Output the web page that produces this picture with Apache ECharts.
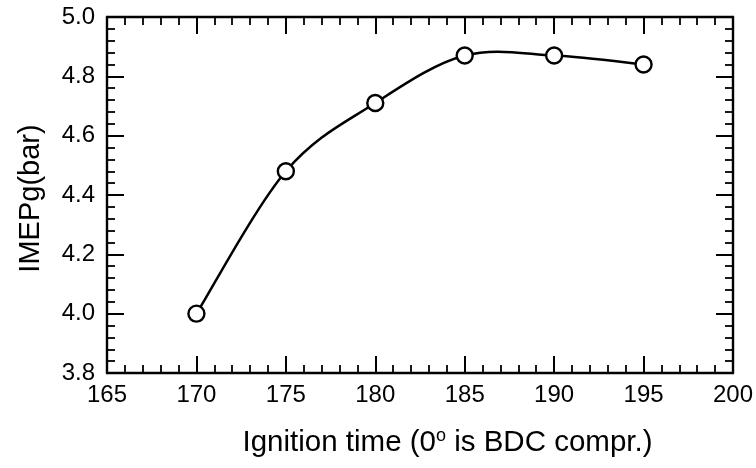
<!DOCTYPE html>
<html><head><meta charset="utf-8">
<script src="https://cdn.jsdelivr.net/npm/echarts@6/dist/echarts.min.js"></script>
<style>html,body{margin:0;padding:0;background:#fff}#c{width:756px;height:468px}</style>
</head><body><div id="c"></div>
<script>
const ignitionTime = [170, 175, 180, 185, 190, 195];
const imepg = [4.00, 4.48, 4.71, 4.87, 4.87, 4.84];
const xTicks = {min: 165, max: 200, interval: 5};
const yTicks = {min: 3.8, max: 5.0, interval: 0.2};

const FONT = 'Liberation Sans';
const chart = echarts.init(document.getElementById('c'), null, {renderer: 'canvas'});
const lineStyle = {color: '#000', width: 2.4};
function axisCommon(showLabel) {
  return {
    axisLine: {show: true, onZero: false, lineStyle: lineStyle},
    axisTick: {show: true, inside: true, length: 17, lineStyle: {color: '#000', width: 2}},
    minorTick: {show: true, splitNumber: 5, length: 8, lineStyle: {color: '#000', width: 1.8}},
    splitLine: {show: false},
    minorSplitLine: {show: false},
    axisLabel: {show: showLabel, color: '#000', fontFamily: FONT, fontSize: 24}
  };
}
const xBottom = Object.assign(axisCommon(true), {
  type: 'value', position: 'bottom', min: xTicks.min, max: xTicks.max, interval: xTicks.interval,
  name: 'Ignition time (0{sup|o} is BDC compr.)', nameLocation: 'middle', nameGap: 54,
  nameTextStyle: {color: '#000', fontFamily: FONT, fontSize: 29.5, padding: [0, 0, 0, 55],
    rich: {sup: {fontSize: 18, fontFamily: FONT, color: '#000', padding: [0, 0, 14, 0]}}}
});
xBottom.axisLabel.margin = 10;
const xTop = Object.assign(axisCommon(false), {
  type: 'value', position: 'top', min: xTicks.min, max: xTicks.max, interval: xTicks.interval
});
const yLeft = Object.assign(axisCommon(true), {
  type: 'value', position: 'left', min: yTicks.min, max: yTicks.max, interval: yTicks.interval,
  name: 'IMEPg(bar)', nameLocation: 'middle', nameGap: 62,
  nameTextStyle: {color: '#000', fontFamily: FONT, fontSize: 29, padding: [0, 7, 0, 0]}
});
yLeft.axisLabel.margin = 12;
yLeft.axisLabel.formatter = v => v.toFixed(1);
const yRight = Object.assign(axisCommon(false), {
  type: 'value', position: 'right', min: yTicks.min, max: yTicks.max, interval: yTicks.interval
});

const n = ignitionTime.length;
function pt(api, k) {
  k = Math.max(0, Math.min(n - 1, k));
  return api.coord([ignitionTime[k], imepg[k]]);
}
function renderSegment(params, api) {
  const i = params.dataIndex;
  const p0 = pt(api, i - 1), p1 = pt(api, i), p2 = pt(api, i + 1), p3 = pt(api, i + 2);
  return {
    type: 'bezierCurve',
    shape: {
      x1: p1[0], y1: p1[1], x2: p2[0], y2: p2[1],
      cpx1: p1[0] + (p2[0] - p0[0]) / 6, cpy1: p1[1] + (p2[1] - p0[1]) / 6,
      cpx2: p2[0] - (p3[0] - p1[0]) / 6, cpy2: p2[1] - (p3[1] - p1[1]) / 6
    },
    style: {stroke: '#000', lineWidth: 2.5, fill: 'none'}
  };
}

chart.setOption({
  animation: false,
  backgroundColor: '#fff',
  grid: {left: 107, right: 23, top: 17, bottom: 95, containLabel: false},
  xAxis: [xBottom, xTop],
  yAxis: [yLeft, yRight],
  series: [{
    type: 'custom',
    xAxisIndex: 0, yAxisIndex: 0,
    clip: false,
    data: ignitionTime.slice(0, -1).map((x, i) => [x, imepg[i]]),
    renderItem: renderSegment,
    z: 2
  }, {
    type: 'line',
    xAxisIndex: 0, yAxisIndex: 0,
    data: ignitionTime.map((x, i) => [x, imepg[i]]),
    lineStyle: {width: 0, opacity: 0},
    symbol: 'circle', symbolSize: 16,
    itemStyle: {color: '#fff', borderColor: '#000', borderWidth: 2.4},
    z: 3
  }]
});
</script></body></html>
